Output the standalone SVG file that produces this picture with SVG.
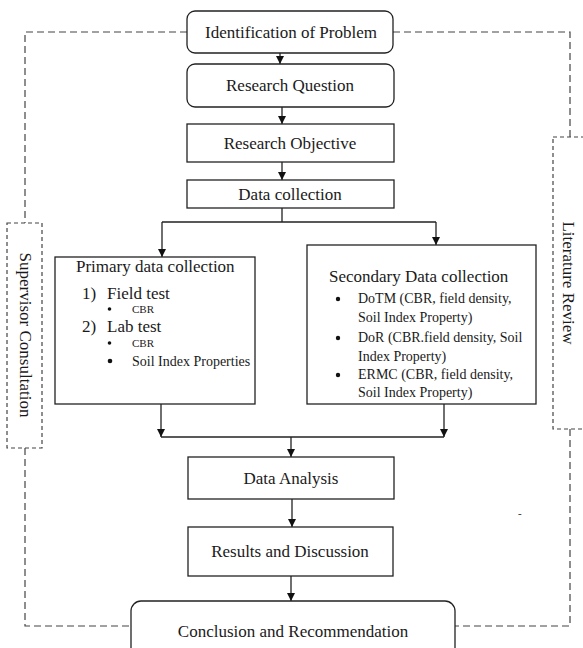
<svg xmlns="http://www.w3.org/2000/svg" width="583" height="648" viewBox="0 0 583 648">
<style>
.box{fill:#fff;stroke:#222;stroke-width:1.3}
.t{font-family:"Liberation Serif","Times New Roman",serif;font-size:17px;fill:#1a1a1a}
.m{font-family:"Liberation Serif","Times New Roman",serif;font-size:14px;fill:#1a1a1a}
.s{font-family:"Liberation Serif","Times New Roman",serif;font-size:11px;fill:#1a1a1a}
.c{text-anchor:middle}
.ln{fill:none;stroke:#222;stroke-width:1.3}
.loop{fill:none;stroke:#444;stroke-width:1.2;stroke-dasharray:7 4}
.side{fill:#fff;stroke:#444;stroke-width:1.2;stroke-dasharray:4 3}
</style>
<defs>
<marker id="ah" markerWidth="8" markerHeight="8" viewBox="0 0 8 8" refX="8" refY="4" orient="auto" markerUnits="userSpaceOnUse">
<path d="M0,0 L8,4 L0,8 Z" fill="#111"/>
</marker>
</defs>
<rect width="583" height="648" fill="#fff"/>

<g id="connectors">
<path class="loop" d="M187,32 H25 V223"/>
<path class="loop" d="M25,448 V626 H131"/>
<path class="loop" d="M393,32 H570 V137"/>
<path class="loop" d="M570,429 V626 H455"/>
<line class="ln" x1="280" y1="53" x2="280" y2="64" marker-end="url(#ah)"/>
<line class="ln" x1="282" y1="107" x2="282" y2="124" marker-end="url(#ah)"/>
<line class="ln" x1="282" y1="162" x2="282" y2="180" marker-end="url(#ah)"/>
<path class="ln" d="M282,208 V222 M162,222 H436"/>
<line class="ln" x1="162" y1="222" x2="162" y2="257" marker-end="url(#ah)"/>
<line class="ln" x1="436" y1="222" x2="436" y2="245" marker-end="url(#ah)"/>
<line class="ln" x1="161" y1="404" x2="161" y2="437" marker-end="url(#ah)"/>
<line class="ln" x1="444" y1="404" x2="444" y2="437" marker-end="url(#ah)"/>
<path class="ln" d="M161,437 H444"/>
<line class="ln" x1="291" y1="437" x2="291" y2="457" marker-end="url(#ah)"/>
<line class="ln" x1="292" y1="499" x2="292" y2="527" marker-end="url(#ah)"/>
<line class="ln" x1="291" y1="576" x2="291" y2="601" marker-end="url(#ah)"/>
</g>

<g id="identification">
<rect class="box" x="187" y="11" width="206" height="42" rx="8"/>
<text class="t c" x="291" y="38">Identification of Problem</text>
</g>
<g id="research-question">
<rect class="box" x="187" y="64" width="207" height="43" rx="8"/>
<text class="t c" x="290" y="91">Research Question</text>
</g>
<g id="research-objective">
<rect class="box" x="187" y="124" width="207" height="38"/>
<text class="t c" x="290" y="149">Research Objective</text>
</g>
<g id="data-collection">
<rect class="box" x="187" y="180" width="207" height="28"/>
<text class="t c" x="290" y="200">Data collection</text>
</g>

<g id="primary">
<rect class="box" x="55" y="257" width="200" height="147"/>
<text class="t" x="76" y="272">Primary data collection</text>
<text class="t" x="82" y="299">1)</text>
<text class="t" x="107" y="299">Field test</text>
<circle cx="109.5" cy="309" r="1.8" fill="#111"/>
<text class="s" x="132" y="313">CBR</text>
<text class="t" x="82" y="332">2)</text>
<text class="t" x="107" y="332">Lab test</text>
<circle cx="109.5" cy="343" r="1.8" fill="#111"/>
<text class="s" x="132" y="347">CBR</text>
<circle cx="110" cy="361" r="2.3" fill="#111"/>
<text class="m" x="132" y="366">Soil Index Properties</text>
</g>

<g id="secondary">
<rect class="box" x="307" y="245" width="229" height="159"/>
<text class="t" x="329" y="282">Secondary Data collection</text>
<circle cx="338" cy="299" r="2.2" fill="#111"/>
<text class="m" x="358" y="303">DoTM (CBR, field density,</text>
<text class="m" x="358" y="322">Soil Index Property)</text>
<circle cx="338" cy="338" r="2.2" fill="#111"/>
<text class="m" x="358" y="342">DoR (CBR.field density, Soil</text>
<text class="m" x="358" y="361">Index Property)</text>
<circle cx="338" cy="375" r="2.2" fill="#111"/>
<text class="m" x="358" y="379">ERMC (CBR, field density,</text>
<text class="m" x="358" y="397">Soil Index Property)</text>
</g>

<g id="supervisor">
<rect class="side" x="7" y="223" width="35" height="225"/>
<text class="t c" transform="translate(20,335) rotate(90)">Supervisor Consultation</text>
</g>
<g id="literature">
<rect class="side" x="553" y="137" width="40" height="292"/>
<text class="t c" transform="translate(563,283) rotate(90)">Literature Review</text>
</g>

<g id="data-analysis">
<rect class="box" x="188" y="457" width="206" height="42"/>
<text class="t c" x="291" y="484">Data Analysis</text>
</g>
<g id="results">
<rect class="box" x="188" y="527" width="205" height="49"/>
<text class="t c" x="290" y="557">Results and Discussion</text>
</g>
<g id="conclusion">
<rect class="box" x="131" y="601" width="324" height="60" rx="10"/>
<text class="t c" x="293" y="637">Conclusion and Recommendation</text>
</g>
<text class="s" x="518" y="517">-</text>
</svg>
